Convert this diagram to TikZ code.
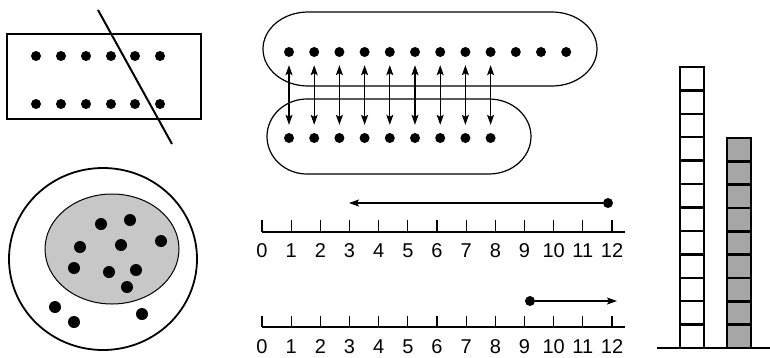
\documentclass[tikz,border=0pt]{standalone}
\usepackage{fontspec}
\setmainfont{Liberation Sans}
\usetikzlibrary{arrows.meta}
\begin{document}
\begin{tikzpicture}[x=1pt,y=-1pt,
  dot/.style={circle,fill=black,inner sep=0pt,minimum size=10pt},
  bigdot/.style={circle,fill=black,inner sep=0pt,minimum size=12pt},
  lbl/.style={font=\fontsize{20}{22}\selectfont,inner sep=0pt,anchor=base},
  tip/.style={-{Stealth[length=10pt,width=7pt,inset=2pt]}},
  cell/.style={line width=2.4pt},
  capsule/.style={line width=1.2pt}]
\useasboundingbox (0,0) rectangle (770,357);

% rectangle with dots
\draw[line width=2pt] (7,34) rectangle (201,119);
\foreach \i/\x in {1/36,2/61,3/86,4/111,5/135,6/160}{
  \node[dot] (ra\i) at (\x,56) {};
  \node[dot] (rb\i) at (\x,104) {};
}
\coordinate (cutA) at (98,10);
\coordinate (cutB) at (172,144);
\draw[line width=2pt] (cutA) -- (cutB);

% circle with ellipse
\draw[line width=1.8pt] (103,259) ellipse [x radius=94pt, y radius=91pt];
\draw[fill=black!22,line width=1pt] (112,249) ellipse [x radius=67pt, y radius=55pt];
\foreach \n/\x/\y in {1/101/224,2/130/220,3/161/241,4/80/247,5/121/245,6/74/268,7/109/272,8/136/270,9/127/287,10/55/307,11/74/322,12/142/314}{
  \node[bigdot] (c\n) at (\x,\y) {};
}

% capsules
\draw[capsule] (308,12) -- (552,12) arc[start angle=-90,end angle=90,x radius=45,y radius=37]
  -- (308,86) arc[start angle=90,end angle=270,x radius=45,y radius=37] -- cycle;
\draw[capsule] (307,99) -- (489,99) arc[start angle=-90,end angle=90,x radius=42,y radius=37.5]
  -- (307,174) arc[start angle=90,end angle=270,x radius=40,y radius=37.5] -- cycle;
\foreach \i in {1,...,12}{
  \node[dot] (t\i) at ({289+25.2*(\i-1)},52) {};
}
\foreach \i in {1,...,9}{
  \node[dot] (b\i) at ({289+25.2*(\i-1)},138) {};
  \draw[line width=1.2pt,{Stealth[length=10pt,width=7pt,inset=2pt]}-{Stealth[length=10pt,width=7pt,inset=2pt]},shorten <=8pt,shorten >=8pt] (t\i) -- (b\i);
}

% number line 1
\draw[line width=1.2pt] (262,232) -- (625,232);
\foreach \i in {0,...,12}{
  \draw[line width=1.2pt] ({262+29.17*\i},232) -- ({262+29.17*\i},220);
  \node[lbl] at ({262+29.17*\i},257) {\i};
}
\node[dot] (p1) at (608,203) {};
\coordinate (q1) at (349,203);
\draw[line width=1.2pt,tip] (p1) -- (q1);

% number line 2
\draw[line width=1.2pt] (262,327) -- (625,327);
\foreach \i in {0,...,12}{
  \draw[line width=1.2pt] ({262+29.17*\i},327) -- ({262+29.17*\i},316);
  \node[lbl] at ({262+29.17*\i},353.5) {\i};
}
\node[dot] (p2) at (530,301) {};
\coordinate (q2) at (617,301);
\draw[line width=1.2pt,tip] (p2) -- (q2);

% columns
\foreach \i in {0,...,11}{
  \draw[cell] (680,{348-23.42*\i}) rectangle (704,{348-23.42*(\i+1)});
}
\foreach \i in {0,...,8}{
  \draw[cell,fill=black!35] (727,{348-23.33*\i}) rectangle (751,{348-23.33*(\i+1)});
}
\draw[line width=2pt] (657,348) -- (770,348);
\end{tikzpicture}
\end{document}
